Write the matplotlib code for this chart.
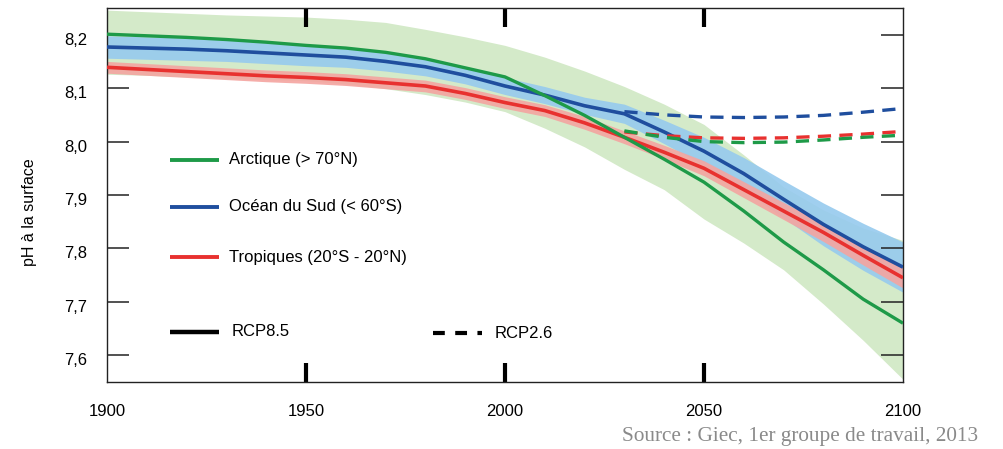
import matplotlib
matplotlib.use("Agg")
import matplotlib.pyplot as plt
from matplotlib.lines import Line2D
from matplotlib.transforms import ScaledTranslation

plt.rcParams['font.family'] = ['Liberation Sans Narrow', 'Liberation Sans', 'DejaVu Sans']
plt.rcParams['lines.scale_dashes'] = False

# ---- data ----
years = [1900, 1910, 1920, 1930, 1940, 1950, 1960, 1970, 1980, 1990, 2000,
         2010, 2020, 2030, 2040, 2050, 2060, 2070, 2080, 2090, 2100]

arctique_85 = [8.201, 8.198, 8.195, 8.191, 8.186, 8.180, 8.175, 8.167, 8.155, 8.138, 8.121,
               8.086, 8.049, 8.008, 7.967, 7.924, 7.870, 7.812, 7.760, 7.705, 7.660]
arctique_hi = [8.246, 8.243, 8.240, 8.237, 8.235, 8.233, 8.229, 8.223, 8.210, 8.196, 8.180,
               8.158, 8.132, 8.103, 8.070, 8.032, 7.975, 7.915, 7.872, 7.838, 7.815]
arctique_lo = [8.126, 8.124, 8.121, 8.118, 8.116, 8.114, 8.108, 8.099, 8.088, 8.074, 8.056,
               8.025, 7.990, 7.948, 7.910, 7.855, 7.810, 7.760, 7.696, 7.628, 7.555]

sud_85 = [8.177, 8.175, 8.173, 8.170, 8.166, 8.162, 8.158, 8.150, 8.140, 8.124, 8.104,
          8.087, 8.067, 8.052, 8.018, 7.982, 7.940, 7.892, 7.845, 7.803, 7.765]
sud_hi = [8.198, 8.196, 8.194, 8.190, 8.186, 8.182, 8.177, 8.168, 8.157, 8.140, 8.120,
          8.103, 8.083, 8.070, 8.040, 8.008, 7.970, 7.927, 7.885, 7.847, 7.812]
sud_lo = [8.156, 8.154, 8.152, 8.150, 8.146, 8.142, 8.139, 8.132, 8.123, 8.108, 8.088,
          8.071, 8.051, 8.034, 7.996, 7.956, 7.910, 7.857, 7.805, 7.759, 7.718]

trop_85 = [8.139, 8.135, 8.131, 8.127, 8.123, 8.120, 8.116, 8.110, 8.104, 8.090, 8.073,
           8.058, 8.035, 8.008, 7.980, 7.950, 7.910, 7.870, 7.830, 7.787, 7.745]
trop_hi = [8.150, 8.146, 8.142, 8.138, 8.134, 8.131, 8.127, 8.121, 8.115, 8.101, 8.084,
           8.069, 8.047, 8.020, 7.993, 7.964, 7.925, 7.886, 7.847, 7.805, 7.764]
trop_lo = [8.128, 8.124, 8.120, 8.116, 8.112, 8.109, 8.105, 8.099, 8.093, 8.079, 8.062,
           8.047, 8.023, 7.996, 7.967, 7.936, 7.895, 7.854, 7.813, 7.769, 7.726]

years_26 = [2030, 2040, 2050, 2060, 2070, 2080, 2090, 2100]
sud_26 = [8.056, 8.050, 8.046, 8.045, 8.046, 8.049, 8.055, 8.062]
trop_26 = [8.018, 8.011, 8.007, 8.006, 8.007, 8.010, 8.014, 8.019]
arctique_26 = [8.020, 8.008, 8.000, 7.998, 7.999, 8.003, 8.008, 8.012]

x_ticks = [1900, 1950, 2000, 2050, 2100]
y_ticks = [7.6, 7.7, 7.8, 7.9, 8.0, 8.1, 8.2]
y_labels = ['7,6', '7,7', '7,8', '7,9', '8,0', '8,1', '8,2']

legend_labels = ['Arctique (> 70°N)', 'Océan du Sud (< 60°S)', 'Tropiques (20°S - 20°N)']
scenario_labels = ['RCP8.5', 'RCP2.6']

# ---- style ----
C_GREEN = '#1e9a48'
C_BLUE = '#1f4e9e'
C_RED = '#e8312f'
B_GREEN = '#d4eac9'
B_BLUE = '#96caee'
B_RED = '#f4a4a0'
FS = 12

fig = plt.figure(figsize=(10.04, 4.49), dpi=100)
ax = fig.add_axes([107 / 1004, 1 - 382 / 449, 796 / 1004, 374 / 449])

ax.fill_between(years, arctique_lo, arctique_hi, color=B_GREEN, lw=0, zorder=1)
ax.fill_between(years, sud_lo, sud_hi, color=B_BLUE, lw=0, alpha=0.9, zorder=1.1)
ax.fill_between(years, trop_lo, trop_hi, color=B_RED, lw=0, alpha=0.9, zorder=1.2)

ax.plot(years, sud_85, color=C_BLUE, lw=2.6, zorder=3, solid_capstyle='butt')
ax.plot(years, trop_85, color=C_RED, lw=2.6, zorder=3.1, solid_capstyle='butt')
ax.plot(years, arctique_85, color=C_GREEN, lw=2.4, zorder=3.2, solid_capstyle='butt')

dash = (0, (9.5, 6))
ax.plot(years_26, sud_26, color=C_BLUE, lw=2.4, ls=dash, zorder=4)
ax.plot(years_26, trop_26, color=C_RED, lw=2.4, ls=dash, zorder=4)
ax.plot(years_26, arctique_26, color=C_GREEN, lw=2.4, ls=dash, zorder=4)

ax.set_xlim(1900, 2100)
ax.set_ylim(7.55, 8.25)

for s in ax.spines.values():
    s.set_linewidth(1.0)
    s.set_color('#222222')

ax.set_xticks(x_ticks)
ax.set_xticklabels([str(v) for v in x_ticks])
ax.set_yticks(y_ticks)
ax.set_yticklabels(y_labels)
ax.tick_params(axis='x', direction='in', length=14, width=3, top=True, bottom=True,
               pad=16, labelsize=FS, color='black')
ax.tick_params(axis='y', direction='in', length=16, width=1.1, left=True, right=True,
               pad=14, labelsize=FS, color='#222222')

# hide ticks that sit on the frame ends / under the band
xt = ax.xaxis.get_major_ticks()
for i in (0, len(xt) - 1):
    xt[i].tick1line.set_visible(False)
    xt[i].tick2line.set_visible(False)
yt = ax.yaxis.get_major_ticks()
yt[-1].tick1line.set_visible(False)
for t in yt:
    t.label1.set_transform(t.label1.get_transform() +
                           ScaledTranslation(0, -4 / 100, fig.dpi_scale_trans))

fig.text(30 / 1004, 1 - 212 / 449, 'pH à la surface', rotation=90, ha='center',
         va='center', fontsize=11.5)

# manual legend (in axes fraction)
tr = ax.transAxes
leg_rows = [(0.594, C_GREEN, legend_labels[0]),
            (0.468, C_BLUE, legend_labels[1]),
            (0.334, C_RED, legend_labels[2])]
for yy, col, lab in leg_rows:
    ax.add_line(Line2D([0.079, 0.141], [yy, yy], color=col, lw=2.8, transform=tr,
                       solid_capstyle='butt', zorder=5))
    ax.text(0.153, yy, lab, transform=tr, va='center', ha='left', fontsize=FS, zorder=5)

ax.add_line(Line2D([0.079, 0.141], [0.134, 0.134], color='black', lw=3.2, transform=tr,
                   solid_capstyle='butt', zorder=5))
ax.text(0.157, 0.134, scenario_labels[0], transform=tr, va='center', ha='left',
        fontsize=FS, zorder=5)
ax.add_line(Line2D([0.41, 0.4715], [0.131, 0.131], color='black', lw=3.0,
                   ls=(0, (8.5, 7.5)), transform=tr, zorder=5))
ax.text(0.487, 0.131, scenario_labels[1], transform=tr, va='center', ha='left',
        fontsize=FS, zorder=5)

fig.text(978 / 1004, 1 - 437 / 449, 'Source : Giec, 1er groupe de travail, 2013',
         ha='right', va='center', fontsize=15.3, color='#8a8a8a',
         family=['Liberation Serif', 'DejaVu Serif'])

fig.savefig('out.png', dpi=100)
